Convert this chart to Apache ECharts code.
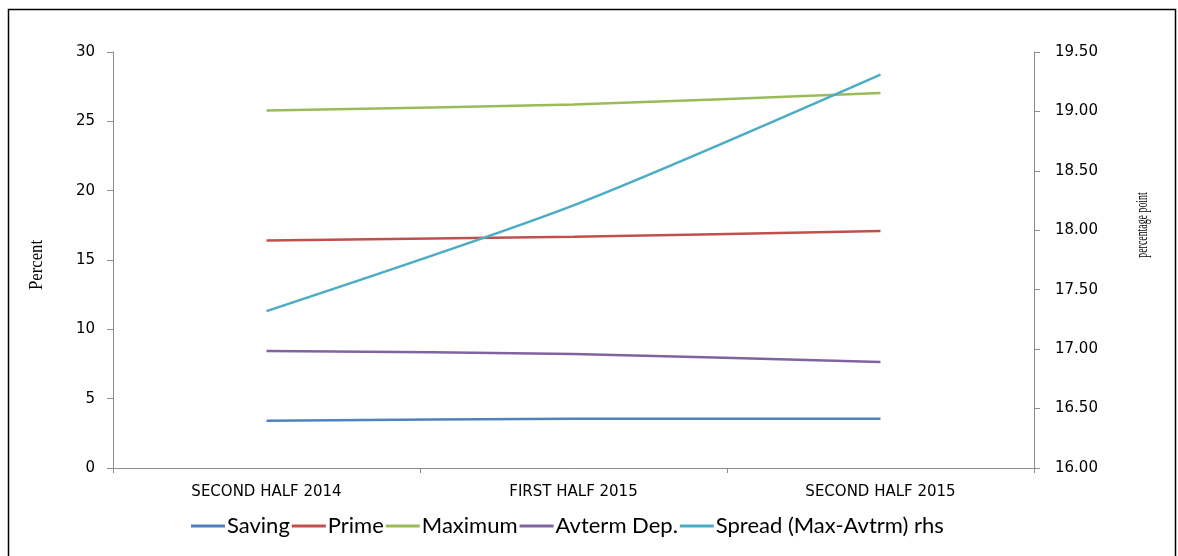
<!DOCTYPE html>
<html>
<head>
<meta charset="utf-8">
<script src="https://cdn.jsdelivr.net/npm/echarts@6/dist/echarts.min.js"></script>
<style>
  html, body { margin: 0; padding: 0; background: #fff; }
  #chart { width: 1178px; height: 556px; }
</style>
</head>
<body>
<div id="chart"></div>
<script>
// Interest rates by half-year (percent), spread on the right-hand axis
const categories = ['SECOND HALF 2014', 'FIRST HALF 2015', 'SECOND HALF 2015'];
const saving   = [3.40, 3.55, 3.55];
const prime    = [16.40, 16.68, 17.10];
const maximum  = [25.78, 26.21, 27.04];
const avterm   = [8.44, 8.22, 7.64];
const spread   = [17.32, 18.21, 19.31];

const leftTicks  = { min: 0, max: 30, interval: 5 };
const rightTicks = { min: 16, max: 19.5, interval: 0.5 };

const tickFont = { fontFamily: 'DejaVu Sans', fontSize: 15, color: '#000' };
const axisGray = '#8c8c8c';

function lineSeries(name, data, color, yAxisIndex) {
  return {
    name, type: 'line', data, yAxisIndex,
    smooth: 0.25, symbol: 'none',
    lineStyle: { color, width: 2.5 },
    itemStyle: { color },
    emphasis: { disabled: true }
  };
}

const chart = echarts.init(document.getElementById('chart'));
chart.setOption({
  animation: false,
  backgroundColor: '#fff',
  grid: { left: 113, right: 144, top: 52, bottom: 88 },
  legend: {
    bottom: 14, left: 186,
    itemWidth: 34, itemHeight: 3, itemGap: 2,
    icon: 'rect',
    textStyle: { fontFamily: 'Lato', fontSize: 22, color: '#000', padding: [0, 0, 0, -3] },
    data: ['Saving', 'Prime', 'Maximum', 'Avterm Dep.', 'Spread (Max-Avtrm) rhs']
  },
  xAxis: {
    type: 'category', data: categories, boundaryGap: true,
    axisLine: { lineStyle: { color: axisGray, width: 1 } },
    axisTick: { show: true, alignWithLabel: false, length: 5, lineStyle: { color: axisGray } },
    axisLabel: { fontFamily: 'DejaVu Sans', fontSize: 15, color: '#000', margin: 17 },
    splitLine: { show: false }
  },
  yAxis: [
    {
      type: 'value', position: 'left', ...leftTicks,
      axisLine: { show: true, lineStyle: { color: axisGray } },
      axisTick: { show: true, length: 6, lineStyle: { color: axisGray } },
      axisLabel: { ...tickFont, margin: 18 },
      splitLine: { show: false }
    },
    {
      type: 'value', position: 'right', ...rightTicks,
      axisLine: { show: true, lineStyle: { color: axisGray } },
      axisTick: { show: true, length: 6, lineStyle: { color: axisGray } },
      axisLabel: { ...tickFont, margin: 21, formatter: v => v.toFixed(2) },
      splitLine: { show: false }
    }
  ],
  graphic: [
    {
      type: 'rect', silent: true,
      shape: { x: 8.5, y: 9.5, width: 1167, height: 600 },
      style: { fill: 'none', stroke: '#000', lineWidth: 1.5 }
    },
    {
      type: 'text', silent: true,
      x: 37, y: 265, rotation: Math.PI / 2, scaleX: 0.88,
      style: { text: 'Percent', fontFamily: 'Liberation Serif', fontSize: 19, fill: '#000',
               align: 'center', verticalAlign: 'middle' }
    },
    {
      type: 'text', silent: true,
      x: 1143, y: 225, rotation: Math.PI / 2, scaleX: 0.58,
      style: { text: 'percentage point', fontFamily: 'Liberation Serif', fontSize: 17, fill: '#000',
               align: 'center', verticalAlign: 'middle' }
    }
  ],
  series: [
    lineSeries('Saving', saving, '#4F81BD', 0),
    lineSeries('Prime', prime, '#C0504D', 0),
    lineSeries('Maximum', maximum, '#9BBB59', 0),
    lineSeries('Avterm Dep.', avterm, '#8064A2', 0),
    lineSeries('Spread (Max-Avtrm) rhs', spread, '#4BACC6', 1)
  ]
});
</script>
</body>
</html>
